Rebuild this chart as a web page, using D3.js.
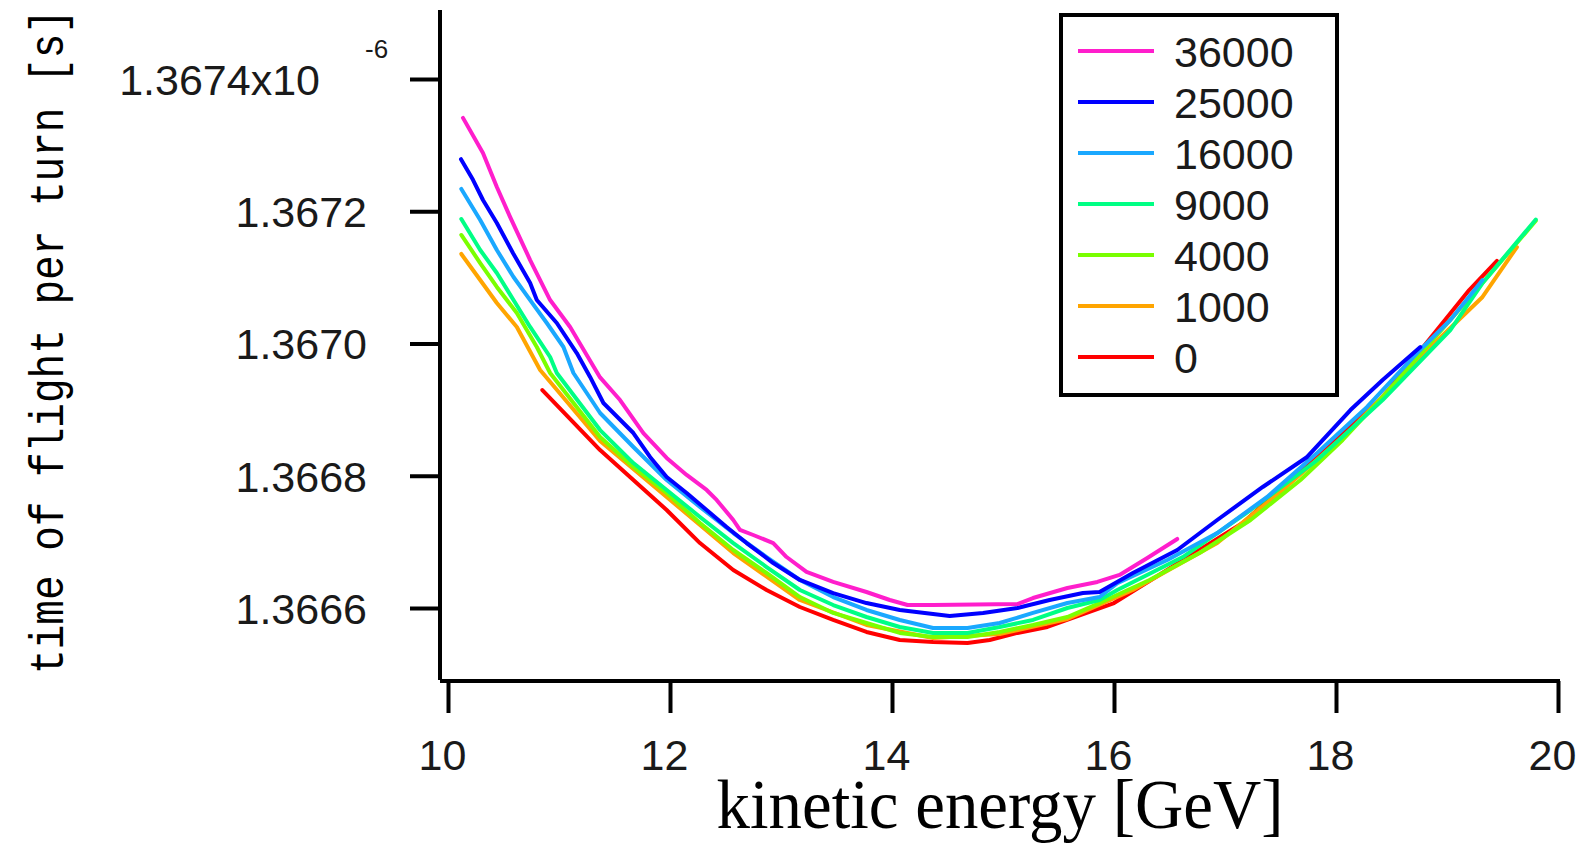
<!DOCTYPE html>
<html>
<head>
<meta charset="utf-8">
<script src="https://cdn.jsdelivr.net/npm/d3@7"></script>
<style>
  html, body { margin: 0; padding: 0; background: #fff; }
  svg { display: block; }
</style>
</head>
<body>
<svg id="chart" width="1583" height="844"></svg>
<script>
// ---------- data (time of flight per turn, units of 1e-6 s) ----------
const seriesNames = ["36000", "25000", "16000", "9000", "4000", "1000", "0"];
const seriesColors = ["#ff1ecc", "#0000ff", "#1aa8ff", "#00ff84", "#7aff00", "#ffa500", "#ff0000"];

const s36000 = [[10.135,1.3673412],[10.315,1.3672881],[10.44,1.3672366],[10.56,1.3671912],[10.74,1.3671262],[10.92,1.3670657],[11.10,1.367025],[11.37,1.3669487],[11.55,1.3669145],[11.76,1.3668646],[11.97,1.3668269],[12.15,1.3668012],[12.33,1.3667785],[12.42,1.3667634],[12.57,1.3667331],[12.63,1.366718],[12.75,1.3667104],[12.93,1.3666982],[13.05,1.3666771],[13.23,1.3666545],[13.47,1.3666394],[13.77,1.3666242],[13.98,1.3666121],[14.14,1.3666045],[14.37,1.3666045],[15.13,1.366606],[15.27,1.3666151],[15.58,1.3666302],[15.85,1.3666394],[16.05,1.36665],[16.30,1.3666756],[16.57,1.3667044]];

const s25000 = [[10.117,1.3672787],[10.225,1.3672475],[10.315,1.367217],[10.44,1.3671822],[10.585,1.3671369],[10.74,1.3670915],[10.80,1.3670657],[10.98,1.367031],[11.16,1.3669856],[11.28,1.3669494],[11.40,1.36691],[11.67,1.3668646],[11.82,1.3668284],[11.97,1.3667981],[12.15,1.3667739],[12.33,1.3667482],[12.51,1.3667225],[12.69,1.3666982],[12.93,1.366668],[13.17,1.3666424],[13.47,1.3666226],[13.77,1.3666075],[14.07,1.366597],[14.52,1.3665879],[14.82,1.3665925],[15.13,1.3666],[15.42,1.3666121],[15.72,1.3666226],[15.87,1.3666242],[16.17,1.3666529],[16.57,1.3666877],[16.93,1.3667331],[17.34,1.366783],[17.74,1.3668284],[18.13,1.3668994],[18.42,1.3669447],[18.76,1.3669947]];

const s16000 = [[10.12,1.3672337],[10.29,1.3671867],[10.44,1.3671414],[10.59,1.3671005],[10.74,1.3670657],[10.89,1.367031],[11.04,1.3669947],[11.13,1.3669554],[11.37,1.3668949],[11.67,1.3668435],[11.97,1.3667936],[12.27,1.3667527],[12.57,1.3667134],[12.87,1.3666771],[13.17,1.3666424],[13.47,1.3666166],[13.77,1.366597],[14.07,1.3665819],[14.37,1.3665698],[14.68,1.3665698],[14.97,1.3665773],[15.27,1.3665925],[15.58,1.3666075],[15.87,1.3666166],[16.03,1.3666377],[16.48,1.3666726],[16.93,1.3667134],[17.38,1.3667679],[17.83,1.3668344],[18.28,1.366904],[18.73,1.3669856],[19.03,1.3670355],[19.32,1.367096]];

const s9000 = [[10.12,1.3671882],[10.29,1.3671414],[10.44,1.3671066],[10.59,1.3670657],[10.74,1.367025],[10.92,1.3669796],[10.98,1.3669554],[11.37,1.3668691],[11.67,1.3668192],[11.97,1.3667785],[12.27,1.3667376],[12.57,1.3666982],[12.87,1.366662],[13.17,1.3666272],[13.47,1.3666045],[13.77,1.3665864],[14.07,1.3665713],[14.37,1.3665623],[14.68,1.3665623],[14.97,1.3665713],[15.27,1.3665819],[15.58,1.3666],[15.87,1.3666121],[16.03,1.3666272],[16.62,1.3666771],[17.23,1.3667482],[17.83,1.3668237],[18.42,1.3669145],[19.03,1.3670204],[19.32,1.3670915],[19.80,1.3671875]];

const s4000 = [[10.12,1.3671641],[10.29,1.3671217],[10.44,1.3670855],[10.62,1.3670461],[10.80,1.3669947],[10.92,1.3669554],[11.37,1.3668586],[11.67,1.3668132],[11.97,1.3667739],[12.27,1.3667285],[12.57,1.3666877],[12.87,1.3666529],[13.17,1.3666166],[13.47,1.3665925],[13.77,1.3665773],[14.07,1.3665623],[14.37,1.3665561],[14.68,1.3665561],[14.97,1.3665638],[15.27,1.3665743],[15.58,1.3665864],[15.87,1.3666075],[16.32,1.3666424],[16.77,1.3666831],[17.23,1.3667331],[17.68,1.3667936],[18.06,1.3668541],[18.42,1.3669191],[18.87,1.3670052],[19.32,1.3670915],[19.80,1.3671856]];

const s1000 = [[10.12,1.3671354],[10.29,1.367096],[10.44,1.3670612],[10.62,1.367025],[10.83,1.36696],[11.37,1.3668525],[11.97,1.3667679],[12.57,1.3666831],[13.17,1.3666121],[13.77,1.3665743],[14.37,1.3665546],[14.97,1.3665606],[15.58,1.3665834],[16.17,1.3666272],[16.93,1.3666982],[17.52,1.3667785],[18.13,1.3668691],[18.73,1.366975],[19.32,1.3670704],[19.63,1.3671459]];

const s0 = [[10.85,1.3669296],[11.37,1.3668389],[11.67,1.3667936],[11.97,1.3667482],[12.27,1.3666982],[12.57,1.3666575],[12.87,1.3666272],[13.17,1.3666015],[13.47,1.3665819],[13.77,1.3665638],[14.07,1.3665516],[14.37,1.3665486],[14.68,1.3665471],[14.88,1.3665516],[15.13,1.3665623],[15.40,1.3665713],[16.00,1.3666075],[17.16,1.3667285],[18.42,1.3669187],[19.20,1.3670809],[19.45,1.367125]];

const seriesData = [s36000, s25000, s16000, s9000, s4000, s1000, s0];

const xTicks = [10, 12, 14, 16, 18, 20];
const yTicks = [1.3666, 1.3668, 1.3670, 1.3672, 1.3674];
const yTickLabels = ["1.3666", "1.3668", "1.3670", "1.3672", "1.3674x10"];
const yExponent = "-6";
const xTitle = "kinetic energy [GeV]";
const yTitle = "time of flight per turn [s]";

// ---------- layout ----------
const svg = d3.select("#chart");
const x = d3.scaleLinear().domain([10, 20]).range([448, 1558]);
const y = d3.scaleLinear().domain([1.3666, 1.3674]).range([608, 79]);

const plotTop = 10, plotBottom = 680, plotLeft = 440;

// curves (drawn bottom series first)
const line = d3.line().x(d => x(d[0])).y(d => y(d[1]));
const order = [6, 5, 4, 3, 2, 1, 0];
svg.append("g").selectAll("path")
  .data(order)
  .join("path")
  .attr("d", i => line(seriesData[i]))
  .attr("fill", "none")
  .attr("stroke", i => seriesColors[i])
  .attr("stroke-width", 4)
  .attr("stroke-linejoin", "round")
  .attr("stroke-linecap", "round");

// y axis
const yAxis = d3.axisLeft(y).tickValues(yTicks).tickSize(30).tickPadding(43)
  .tickFormat((d, i) => yTickLabels[i]);
const gy = svg.append("g").attr("transform", `translate(${plotLeft},0)`).call(yAxis);
gy.select(".domain").remove();
gy.selectAll(".tick line").attr("stroke", "#000").attr("stroke-width", 4);
gy.selectAll(".tick text")
  .attr("font-family", "'Liberation Sans', Arial, sans-serif")
  .attr("font-size", 43)
  .attr("fill", "#1a1a1a")
  .attr("dy", "0.36em");
gy.selectAll(".tick text").filter((d, i) => i === yTicks.length - 1)
  .attr("x", -120);
gy.append("text")
  .attr("x", -75).attr("y", y(1.3674) - 21)
  .attr("font-family", "'Liberation Sans', Arial, sans-serif")
  .attr("font-size", 26)
  .attr("fill", "#1a1a1a")
  .attr("text-anchor", "start")
  .text(yExponent);
gy.append("line")
  .attr("x1", 0).attr("x2", 0)
  .attr("y1", plotTop).attr("y2", plotBottom)
  .attr("stroke", "#000").attr("stroke-width", 4);

// x axis
const xAxis = d3.axisBottom(x).tickValues(xTicks).tickSize(32).tickPadding(26)
  .tickFormat(d3.format("d"));
const gx = svg.append("g").attr("transform", `translate(0,${plotBottom + 1})`).call(xAxis);
gx.select(".domain").remove();
gx.selectAll(".tick line").attr("stroke", "#000").attr("stroke-width", 4);
gx.selectAll(".tick text")
  .attr("font-family", "'Liberation Sans', Arial, sans-serif")
  .attr("font-size", 43)
  .attr("fill", "#1a1a1a")
  .attr("dx", -6);
gx.append("line")
  .attr("x1", plotLeft).attr("x2", x(20) + 2)
  .attr("y1", 0).attr("y2", 0)
  .attr("stroke", "#000").attr("stroke-width", 4);

// axis titles
svg.append("text")
  .attr("x", 1000).attr("y", 828)
  .attr("text-anchor", "middle")
  .attr("font-family", "'Liberation Serif', 'Times New Roman', serif")
  .attr("font-size", 70)
  .attr("textLength", 567)
  .attr("lengthAdjust", "spacingAndGlyphs")
  .attr("fill", "#000")
  .text(xTitle);

svg.append("text")
  .attr("transform", "translate(63,341.5) rotate(-90)")
  .attr("text-anchor", "middle")
  .attr("font-family", "'Liberation Mono', 'Courier New', monospace")
  .attr("font-size", 48)
  .attr("textLength", 665)
  .attr("lengthAdjust", "spacingAndGlyphs")
  .attr("fill", "#000")
  .text(yTitle);

// legend
const lg = svg.append("g");
lg.append("rect")
  .attr("x", 1061).attr("y", 15).attr("width", 276).attr("height", 380)
  .attr("fill", "#fff").attr("stroke", "#000").attr("stroke-width", 4);
const items = lg.selectAll("g.item").data(seriesNames).join("g")
  .attr("class", "item")
  .attr("transform", (d, i) => `translate(0,${51 + i * 51})`);
items.append("line")
  .attr("x1", 1078).attr("x2", 1154).attr("y1", 0).attr("y2", 0)
  .attr("stroke", (d, i) => seriesColors[i]).attr("stroke-width", 4);
items.append("text")
  .attr("x", 1174).attr("y", 16)
  .attr("font-family", "'Liberation Sans', Arial, sans-serif")
  .attr("font-size", 43)
  .attr("fill", "#1a1a1a")
  .text(d => d);
</script>
</body>
</html>
